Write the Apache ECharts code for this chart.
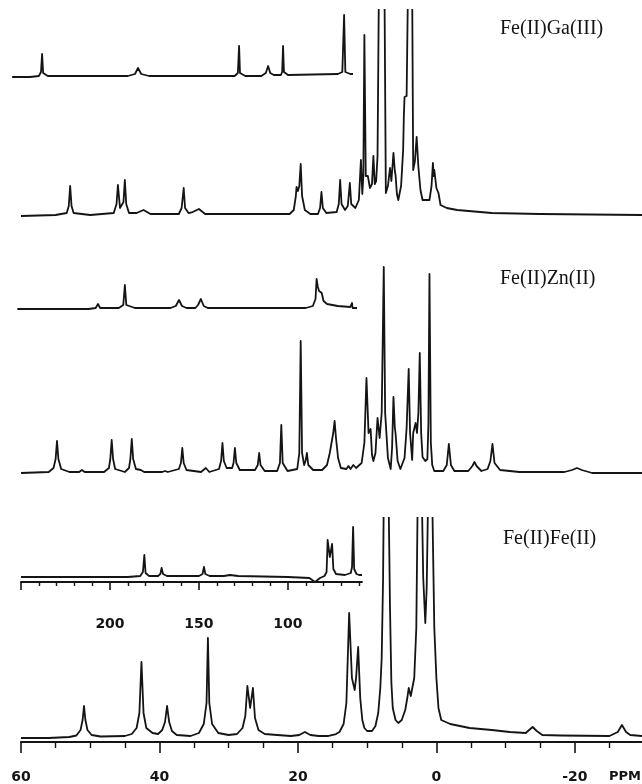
<!DOCTYPE html>
<html>
<head>
<meta charset="utf-8">
<title>Fe(II)M spectra</title>
<script src="https://cdn.jsdelivr.net/npm/echarts@6/dist/echarts.min.js"></script>
<style>
  html, body { margin: 0; padding: 0; background: #fff; }
  #chart { width: 642px; height: 784px; }
</style>
</head>
<body>
<div id="chart"></div>
<script>
// traces: [ppm, height above baseline]
const gaMain = [[60,0],[55,1],[53.4,3],[53.1,10],[52.9,30],[52.7,10],[52.4,3],[50,1],[46.6,3],[46.2,12],[46.0,31],[45.7,8],[45.5,9],[45.2,14],[45.0,36],[44.8,12],[44.4,3],[43.3,3],[42.3,6],[41.3,2],[37.2,2],[36.8,8],[36.5,28],[36.3,8],[35.8,3],[35.2,4],[34.3,7],[33.4,2],[21.2,2],[20.6,6],[20.3,20],[20.2,29],[20.0,25],[19.8,30],[19.6,52],[19.4,20],[19.0,6],[18.2,2],[17.1,2],[16.8,8],[16.6,24],[16.4,8],[15.9,3],[14.4,4],[14.1,12],[13.9,36],[13.7,12],[13.2,6],[12.8,10],[12.5,33],[12.3,12],[11.7,8],[11.2,16],[10.9,56],[10.7,22],[10.55,40],[10.4,181],[10.2,40],[9.9,40],[9.6,28],[9.3,32],[9.1,60],[8.9,32],[8.7,35],[8.5,60],[8.3,230],[7.5,230],[7.3,23],[7.0,30],[6.7,48],[6.5,35],[6.2,63],[6.0,45],[5.9,41],[5.7,22],[5.5,16],[5.1,30],[4.8,66],[4.7,100],[4.6,119],[4.3,120],[4.1,230],[3.5,230],[3.35,46],[3.1,55],[2.85,79],[2.6,49],[2.3,26],[2.0,16],[1.0,16],[0.7,30],[0.5,53],[0.4,40],[0.3,46],[0.0,28],[-0.3,23],[-0.6,11],[-1.5,8],[-3,6],[-8,3],[-15,2],[-29.7,1]]

const znMain = [[60,0],[56,1],[55.3,5],[55.0,14],[54.8,32],[54.6,14],[54.2,4],[53,1],[51.6,1],[51.2,3],[50.8,1],[48,1],[47.3,5],[47.1,14],[46.9,33],[46.7,14],[46.4,4],[45,1],[44.4,5],[44.2,14],[44.0,34],[43.8,14],[43.4,4],[42.7,3],[42.2,1],[39.6,1],[39.2,2],[38.8,1],[37.2,4],[36.9,10],[36.7,25],[36.5,10],[36.1,3],[34,1],[33.3,5],[32.8,1],[31.4,4],[31.1,12],[30.9,30],[30.7,12],[30.3,5],[29.5,5],[29.3,10],[29.1,25],[28.9,10],[28.4,3],[26.2,3],[25.8,8],[25.6,20],[25.4,8],[24.8,2],[23,2],[22.6,10],[22.4,48],[22.2,10],[21.5,2],[20.1,4],[19.8,20],[19.6,132],[19.4,20],[19.1,8],[18.9,12],[18.7,20],[18.5,8],[17.8,3],[16.5,3],[15.8,8],[15.4,20],[15.2,18],[14.9,40],[14.7,52],[14.5,35],[14.2,15],[13.8,5],[13,4],[12.7,7],[12.4,4],[12.0,8],[11.6,5],[10.8,10],[10.4,30],[10.1,95],[9.8,40],[9.5,44],[9.3,18],[9.1,12],[8.8,20],[8.5,55],[8.2,35],[7.9,60],[7.6,206],[7.4,60],[7.0,15],[6.6,4],[6.4,25],[6.2,76],[6.0,45],[5.9,40],[5.6,12],[5.2,4],[4.6,15],[4.3,45],[4.0,104],[3.8,40],[3.5,13],[3.35,40],[3.15,38],[3.0,50],[2.8,40],[2.6,60],[2.4,120],[2.2,40],[2.0,16],[1.6,12],[1.3,14],[1.15,50],[1.0,199],[0.8,30],[0.6,8],[0.3,2],[-1,2],[-1.5,8],[-1.8,29],[-2.1,8],[-2.6,2],[-4.6,2],[-5.2,7],[-5.5,11],[-5.8,7],[-6.5,2],[-7.4,4],[-7.8,12],[-8.1,29],[-8.4,10],[-9.2,3],[-12,1],[-18.5,1],[-19.6,3],[-20.3,5],[-21,3],[-22.5,0],[-29.7,0]]

const feMain = [[60,0],[56,0],[53,1],[52,2.5],[51.4,8],[51.1,18],[50.9,32],[50.7,18],[50.4,8],[49.8,3],[48.5,1.5],[45,2],[44,4],[43.3,10],[42.9,25],[42.6,76],[42.3,25],[41.9,10],[41,5],[40.2,4],[39.6,8],[39.2,16],[38.9,32],[38.6,16],[38.2,7],[37.5,3],[35.5,2],[34.3,5],[33.6,14],[33.2,35],[33.0,100],[32.8,35],[32.4,14],[31.5,5],[30,3],[28.8,4],[28,10],[27.6,22],[27.3,52],[26.9,30],[26.5,50],[26.2,20],[25.7,8],[24.8,4],[23,3],[21,2],[19.8,3],[19.0,6],[18.2,3],[17,2],[15.7,2],[14.5,4],[14.0,6],[13.4,14],[13.0,35],[12.6,125],[12.2,60],[11.8,48],[11.6,60],[11.3,91],[11.0,40],[10.7,18],[10.4,10],[10.0,7],[9.3,7],[8.8,12],[8.4,25],[8.1,50],[7.9,80],[7.7,160],[7.6,240],[6.9,240],[6.7,130],[6.5,55],[6.3,30],[5.9,18],[5.5,15],[5.0,18],[4.5,28],[4.2,40],[4.0,50],[3.7,42],[3.5,40],[3.2,60],[2.9,110],[2.7,240],[2.1,240],[1.9,160],[1.6,115],[1.4,150],[1.2,240],[0.6,240],[0.3,110],[0.0,60],[-0.3,30],[-0.7,18],[-2,14],[-4.8,10],[-8,8],[-10.6,6],[-12.9,5],[-13.4,8],[-13.9,11],[-14.5,7],[-15.3,3],[-18,2.5],[-25,2],[-26.2,6],[-26.8,13],[-27.4,6],[-28,3],[-29.7,2]]

const gaInset = [[255,0],[245,0],[240,1],[238.8,5],[238.2,23],[237.6,4],[235,1],[190,1],[186,3],[184.3,9],[182.5,3],[178,1],[130,1],[128.2,4],[127.5,31],[127,4],[124,1],[115,1],[112.5,4],[111.2,11],[110,4],[108,2],[104,2],[103.3,5],[102.8,31],[102.3,5],[100,2],[72,3],[69.5,5],[68.5,62],[67.8,5],[65,3],[63.5,3]]

const znInset = [[252,0],[212,0],[208,1],[206.7,5],[205.5,1],[195,1],[192.5,4],[191.6,24],[190.8,4],[187.5,2],[187,3],[186,1],[166,1],[163,3],[161.2,9],[159.5,3],[157,1],[152,1],[150.5,4],[148.9,10],[147.3,3],[145,1],[90,1],[86,3],[84.5,10],[83.9,30],[83.7,32],[83.2,22],[82.5,18],[81,16],[80,8],[78,5],[72,3],[65,2],[64.3,2],[64.0,6],[63.7,1],[61.2,1]]

const feInset = [[250,0],[215,0],[190,0],[183,1],[181.5,5],[180.7,22],[180,4],[178,1],[173,1],[171.7,3],[171,9],[170.2,3],[168,1],[150,1],[148,3],[147.2,10],[146.4,3],[144,1],[136,1],[132.6,2],[128,1],[100,0],[88,-1],[84.8,-5],[82,-1],[79.5,1],[78.3,5],[77.7,37],[76.5,20],[75.2,33],[74.5,8],[73,3],[68,2],[64.7,4],[64,10],[63.4,50],[62.8,8],[61.5,3],[60,2],[58.4,2]]

const mainTicks = [60, 40, 20, 0, -20]
const mainMinorTicks = [55, 50, 45, 35, 30, 25, 15, 10, 5, -5, -10, -15, -25]
const insetTicks = [250, 200, 150, 100]
const insetLabels = [200, 150, 100]
const insetMinorTicks = [240, 230, 220, 210, 190, 180, 170, 160, 140, 130, 120, 110, 90, 80, 70, 60]
const titles = ['Fe(II)Ga(III)', 'Fe(II)Zn(II)', 'Fe(II)Fe(II)']

const ink = '#141414'
const chart = echarts.init(document.getElementById('chart'), null, { renderer: 'canvas' })

// one grid per trace, sized in pixels; y units are pixels above the baseline
const panels = [
  { data: gaMain,  left: 21, right: 0,   top: 10,  height: 211, ymax: 206, xmin: -29.7, xmax: 60 },
  { data: znMain,  left: 21, right: 0,   top: 262, height: 216, ymax: 211, xmin: -29.7, xmax: 60 },
  { data: feMain,  left: 21, right: 0,   top: 518, height: 225, ymax: 220, xmin: -29.7, xmax: 60 },
  { data: gaInset, left: 12, right: 289, top: 10,  height: 72,  ymax: 67,  xmin: 63.5,  xmax: 255.1 },
  { data: znInset, left: 17, right: 285, top: 270, height: 44,  ymax: 39,  xmin: 61.2,  xmax: 252.2 },
  { data: feInset, left: 21, right: 280, top: 520, height: 62,  ymax: 57,  xmin: 58.4,  xmax: 250 }
]

const grid = []
const xAxis = []
const yAxis = []
const series = []

panels.forEach((p, i) =>
{
  grid.push({ left: p.left, right: p.right, top: p.top, height: p.height, containLabel: false })
  xAxis.push({ type: 'value', gridIndex: i, min: p.xmin, max: p.xmax, inverse: true, show: false })
  yAxis.push({ type: 'value', gridIndex: i, min: -5, max: p.ymax, show: false })
  series.push({
    type: 'line',
    xAxisIndex: i,
    yAxisIndex: i,
    data: p.data,
    showSymbol: false,
    symbol: 'none',
    clip: true,
    silent: true,
    animation: false,
    lineStyle: { color: ink, width: 1.8, join: 'round' }
  })
})

// scale axes: a major one and a minor-tick twin on a copy of the grid
function scaleAxis(panelIndex, offset, ticks, labels, tickLen, labelMargin, minorTicks, minorLen)
{
  const p = panels[panelIndex]
  const gi = grid.length
  grid.push({ left: p.left, right: p.right, top: p.top, height: p.height })
  grid.push({ left: p.left, right: p.right, top: p.top, height: p.height })
  const base = { type: 'value', min: p.xmin, max: p.xmax, inverse: true, position: 'bottom', offset, splitLine: { show: false } }
  xAxis.push(Object.assign({}, base, {
    gridIndex: gi,
    axisLine: { show: true, lineStyle: { color: ink, width: 1.8 } },
    axisTick: { show: true, customValues: ticks, length: tickLen, lineStyle: { color: ink, width: 1.6 } },
    axisLabel: {
      show: true, customValues: labels, margin: labelMargin, color: ink,
      fontFamily: 'DejaVu Sans', fontWeight: 'bold', fontSize: 14
    }
  }))
  xAxis.push(Object.assign({}, base, {
    gridIndex: gi + 1,
    axisLine: { show: false },
    axisTick: { show: true, customValues: minorTicks, length: minorLen, lineStyle: { color: ink, width: 1.4 } },
    axisLabel: { show: false }
  }))
  yAxis.push({ type: 'value', gridIndex: gi, show: false })
  yAxis.push({ type: 'value', gridIndex: gi + 1, show: false })
}

scaleAxis(2, 10, mainTicks, mainTicks, 11, 18, mainMinorTicks, 5)
scaleAxis(5, 16, insetTicks, insetLabels, 8, 19, insetMinorTicks, 4)

const titleFont = '20px "Liberation Serif", "DejaVu Serif", serif'

chart.setOption({
  animation: false,
  backgroundColor: '#fff',
  grid,
  xAxis,
  yAxis,
  series,
  graphic: [
    { type: 'text', left: 500, top: 19, style: { text: titles[0], font: titleFont, fill: ink } },
    { type: 'text', left: 500, top: 269, style: { text: titles[1], font: titleFont, fill: ink } },
    { type: 'text', left: 503, top: 529, style: { text: titles[2], font: titleFont, fill: ink } },
    { type: 'text', left: 609, top: 770, style: { text: 'PPM', font: 'bold 13px "DejaVu Sans", sans-serif', fill: ink } }
  ]
})
</script>
</body>
</html>
